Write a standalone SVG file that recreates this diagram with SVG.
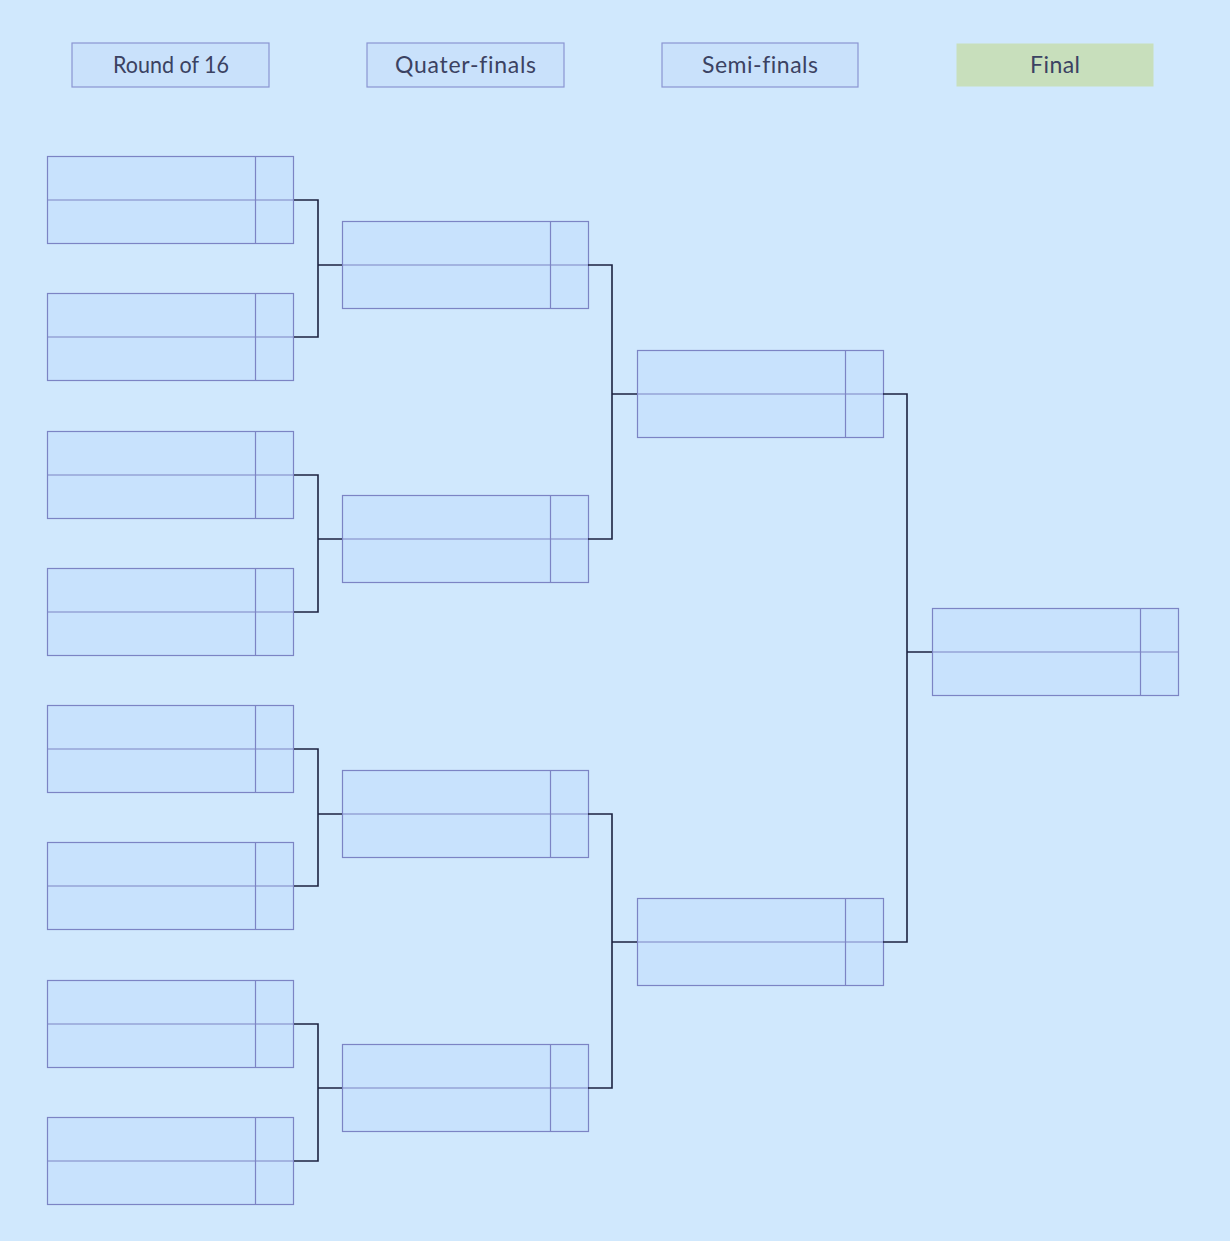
<svg xmlns="http://www.w3.org/2000/svg" width="1230" height="1241" viewBox="0 0 1230 1241">
  <defs>
    <style>
      .bg { fill: #d0e8fd; }
      .hdr { fill: #c9e1fb; stroke: #8b95d2; stroke-width: 1.2; }
      .hdr-final { fill: #c8dfbc; stroke: #c8dfbc; stroke-width: 1; }
      .hdr-text { font-family: Lato, "Liberation Sans", sans-serif; font-size: 23px; fill: #3b4262; text-anchor: middle; font-variant-ligatures: none; }
      .cell { fill: #c8e2fd; stroke: #7c84c4; stroke-width: 1.2; }
      .line { fill: none; stroke: #7c84c4; stroke-width: 1.2; }
      .conn { fill: none; stroke: #1c2240; stroke-width: 1.6; }
    </style>
    <!-- one match: two rows, name column and score column -->
    <g id="match">
      <rect class="cell" x="0" y="0" width="246" height="87"/>
      <line class="line" x1="0" y1="43.5" x2="246" y2="43.5"/>
      <line class="line" x1="208" y1="0" x2="208" y2="87"/>
    </g>
  </defs>

  <rect class="bg" x="0" y="0" width="1230" height="1241"/>

  <!-- round headers -->
  <g id="header-r16">
    <rect class="hdr" x="72" y="43" width="197" height="44"/>
    <text class="hdr-text" x="171" y="73" textLength="116" lengthAdjust="spacingAndGlyphs">Round of 16</text>
  </g>
  <g id="header-qf">
    <rect class="hdr" x="367" y="43" width="197" height="44"/>
    <text class="hdr-text" x="465.5" y="73" textLength="141" lengthAdjust="spacing">Quater-finals</text>
  </g>
  <g id="header-sf">
    <rect class="hdr" x="662" y="43" width="196" height="44"/>
    <text class="hdr-text" x="760" y="73" textLength="116" lengthAdjust="spacing">Semi-finals</text>
  </g>
  <g id="header-final">
    <rect class="hdr-final" x="957" y="44" width="196" height="42"/>
    <text class="hdr-text" x="1055" y="73" textLength="50" lengthAdjust="spacing">Final</text>
  </g>

  <!-- round of 16 -->
  <g id="r16-1"><use href="#match" x="47.5" y="156.5"/></g>
  <g id="r16-2"><use href="#match" x="47.5" y="293.5"/></g>
  <g id="r16-3"><use href="#match" x="47.5" y="431.5"/></g>
  <g id="r16-4"><use href="#match" x="47.5" y="568.5"/></g>
  <g id="r16-5"><use href="#match" x="47.5" y="705.5"/></g>
  <g id="r16-6"><use href="#match" x="47.5" y="842.5"/></g>
  <g id="r16-7"><use href="#match" x="47.5" y="980.5"/></g>
  <g id="r16-8"><use href="#match" x="47.5" y="1117.5"/></g>

  <!-- quarter-finals -->
  <g id="qf-1"><use href="#match" x="342.5" y="221.5"/></g>
  <g id="qf-2"><use href="#match" x="342.5" y="495.5"/></g>
  <g id="qf-3"><use href="#match" x="342.5" y="770.5"/></g>
  <g id="qf-4"><use href="#match" x="342.5" y="1044.5"/></g>

  <!-- semi-finals -->
  <g id="sf-1"><use href="#match" x="637.5" y="350.5"/></g>
  <g id="sf-2"><use href="#match" x="637.5" y="898.5"/></g>

  <!-- final -->
  <g id="final"><use href="#match" x="932.5" y="608.5"/></g>

  <!-- bracket connectors -->
  <g id="connectors">
    <path class="conn" d="M294 200 H318 V337 H294 M318 265 H342"/>
    <path class="conn" d="M294 475 H318 V612 H294 M318 539 H342"/>
    <path class="conn" d="M294 749 H318 V886 H294 M318 814 H342"/>
    <path class="conn" d="M294 1024 H318 V1161 H294 M318 1088 H342"/>
    <path class="conn" d="M588 265 H612 V539 H588 M612 394 H637"/>
    <path class="conn" d="M588 814 H612 V1088 H588 M612 942 H637"/>
    <path class="conn" d="M883 394 H907 V942 H883 M907 652 H932"/>
  </g>
</svg>
